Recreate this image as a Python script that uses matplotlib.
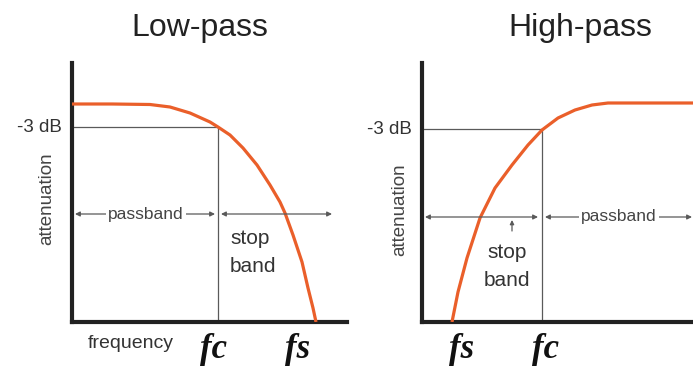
#Low-pass / high-pass filter schematic (attenuation vs frequency)
import matplotlib.pyplot as plt

# curve points (x: frequency units, y: attenuation units)
low_x = [0, 40, 78, 98, 118, 138, 146, 158, 171, 185, 198, 208, 213, 221, 230, 236, 241, 244]
low_y = [218, 218, 217.5, 215, 209, 200, 195, 187, 174, 157, 137, 120, 109, 87, 60, 34, 14, 0]
high_x = [30, 36, 45, 58, 73, 90, 106, 120, 136, 153, 170, 186, 198, 271]
high_y = [0, 30, 64, 104, 134, 157, 177, 192, 204, 212, 217, 219, 219, 219]

low_fc, low_fs, low_db3, low_arrow = 146, 226, 195, 108
high_fc, high_fs, high_db3, high_arrow = 120, 40, 193, 105

titles = ["Low-pass", "High-pass"]

plt.rcParams.update({"font.family": "sans-serif",
    "font.sans-serif": ["Liberation Sans", "DejaVu Sans"]})

ORANGE = "#EA5F2A"
GREY = "#5a5a5a"
AX = "#222222"

fig = plt.figure(figsize=(6.93, 3.68), dpi=100)
axL = fig.add_axes([72/693, 46/368, 275/693, 259/368])
axR = fig.add_axes([422/693, 46/368, 271/693, 259/368])

for ax, xmax in ((axL, 275), (axR, 271)):
    ax.set_xlim(0, xmax); ax.set_ylim(0, 259)
    ax.spines[["top", "right"]].set_visible(False)
    for s in ("left", "bottom"):
        ax.spines[s].set_linewidth(3)
        ax.spines[s].set_color(AX)
        ax.spines[s].set_capstyle("projecting")
    ax.set_xticks([]); ax.set_yticks([])
    ax.patch.set_alpha(0)

def darrow(ax, x0, x1, y):
    ax.annotate("", xy=(x1, y), xytext=(x0, y), annotation_clip=False,
                arrowprops=dict(arrowstyle="<|-|>", color=GREY, lw=0.9,
                                mutation_scale=7, shrinkA=0, shrinkB=0))

lab = dict(fontsize=13.5, color="#333333")
fx = dict(family="Liberation Serif", style="italic", weight="bold",
          fontsize=25, color="#111111", ha="center", va="center")

# ---- low-pass
axL.plot([0, low_fc], [low_db3, low_db3], color=GREY, lw=0.9)
axL.plot([low_fc, low_fc], [0, low_db3], color=GREY, lw=0.9)
axL.plot(low_x, low_y, color=ORANGE, lw=2.3, solid_capstyle="butt",
         solid_joinstyle="round", zorder=3)
darrow(axL, 3, 143, low_arrow)
darrow(axL, 149, 260, low_arrow)
axL.text(74, low_arrow, "passband", ha="center", va="center", fontsize=12.5,
         color="#444444", bbox=dict(fc="white", ec="none", pad=1.5))
axL.text(158, 84, "stop", ha="left", va="center", fontsize=15, color="#333333")
axL.text(158, 55, "band", ha="left", va="center", fontsize=15, color="#333333")
axL.text(-10, low_db3, "-3 dB", ha="right", va="center", clip_on=False, **lab)
axL.text(-25, 123, "attenuation", rotation=90, ha="center", va="center",
         fontsize=13.5, color="#444444")
axL.text(59, -21, "frequency", ha="center", va="center", fontsize=14, color="#333333")
axL.text(142, -27, "fc", **fx)
axL.text(low_fs, -27, "fs", **fx)

# ---- high-pass
axR.plot([0, high_fc], [high_db3, high_db3], color=GREY, lw=0.9)
axR.plot([high_fc, high_fc], [0, high_db3], color=GREY, lw=0.9)
axR.plot(high_x, high_y, color=ORANGE, lw=2.3, solid_capstyle="butt",
         solid_joinstyle="round", zorder=3)
darrow(axR, 3, 116, high_arrow)
darrow(axR, 123, 270, high_arrow)
axR.text(197, high_arrow, "passband", ha="center", va="center", fontsize=12.5,
         color="#444444", bbox=dict(fc="white", ec="none", pad=1.5))
axR.annotate("", xy=(90, 102), xytext=(90, 91),
             arrowprops=dict(arrowstyle="-|>", color=GREY, lw=0.9,
                             mutation_scale=6, shrinkA=0, shrinkB=0))
axR.text(85, 70, "stop", ha="center", va="center", fontsize=15, color="#333333")
axR.text(85, 42, "band", ha="center", va="center", fontsize=15, color="#333333")
axR.text(-10, high_db3, "-3 dB", ha="right", va="center", clip_on=False, **lab)
axR.text(-22, 112, "attenuation", rotation=90, ha="center", va="center",
         fontsize=13.5, color="#444444")
axR.text(high_fs, -27, "fs", **fx)
axR.text(high_fc + 3, -27, "fc", **fx)

fig.text(200/693, 1 - 28/368, titles[0], ha="center", va="center",
         fontsize=23, color="#222222")
fig.text(580/693, 1 - 28/368, titles[1], ha="center", va="center",
         fontsize=23, color="#222222")

fig.savefig("out.png", dpi=100, facecolor="white")
